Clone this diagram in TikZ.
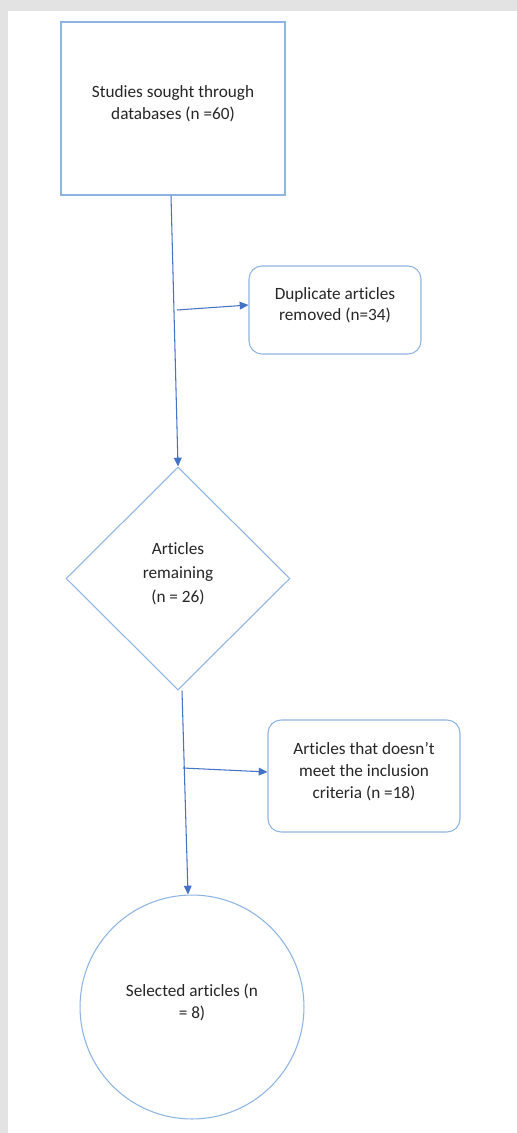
\documentclass[tikz,border=0pt]{standalone}
\usepackage{fontspec}
\setmainfont{Carlito}[Ligatures=NoCommon]
\usetikzlibrary{shapes.geometric,arrows.meta}
\definecolor{shapeblue}{HTML}{8DB4E2}
\definecolor{arrowblue}{HTML}{4472C4}
\definecolor{pagegrey}{HTML}{E3E3E3}
\definecolor{textgrey}{HTML}{262626}
\tikzset{
  shapeline/.style={draw=shapeblue, line width=0.6pt, fill=white, text=textgrey, align=center, font=\fontsize{9.8}{12.5}\selectfont},
  rectbox/.style={shapeline, rectangle, minimum width=4.48cm, minimum height=3.46cm},
  roundbox/.style={shapeline, rectangle, rounded corners=0.26cm},
  decision/.style={shapeline, diamond, minimum width=4.48cm, minimum height=4.46cm, inner sep=0pt},
  terminal/.style={shapeline, circle, minimum size=4.48cm, inner sep=0pt},
  flowarrow/.style={draw=arrowblue, line width=0.6pt, -{Triangle[length=5pt,width=4.4pt]}}
}
\begin{document}
\begin{tikzpicture}[x=0.02cm, y=-0.02cm]

  % page
  \fill[pagegrey] (0,0) rectangle (517,1133);
  \fill[white] (8,11) rectangle (517,1133);
  \useasboundingbox (0,0) rectangle (517,1133);

  % Search
  \node[rectbox] (studies) at (173,108.5) {Studies sought through\\databases (n =60)\\[-5.7pt]};

  % Duplicates
  \node[roundbox, minimum width=3.44cm, minimum height=1.76cm] (dup) at (335,310) {Duplicate articles\\removed (n=34)\\[-5.7pt]};

  % Remaining
  \node[decision] (remain) at (178,578.5) {Articles\\[1.2pt]remaining\\[1.2pt](n = 26)\\[-5.7pt]};

  % Excluded
  \node[roundbox, minimum width=3.84cm, minimum height=2.24cm] (excl) at (364,776) {Articles that doesn’t\\meet the inclusion\\criteria (n =18)\\[-5.7pt]};

  % Selected
  \node[terminal] (sel) at (192,1007) {Selected articles (n\\= 8)\\[-5.7pt]};

  % connectors
  \coordinate (split1) at (177,310);
  \coordinate (split2) at (183,768);
  \draw[flowarrow] ([xshift=-0.04cm]studies.south) -- (remain.north);
  \draw[flowarrow] (split1) -- ([yshift=0.1cm]dup.west);
  \draw[flowarrow] ([xshift=0.08cm]remain.south) -- ([xshift=-0.08cm]sel.north);
  \draw[flowarrow] (split2) -- ([yshift=0.08cm]excl.west);
\end{tikzpicture}
\end{document}
